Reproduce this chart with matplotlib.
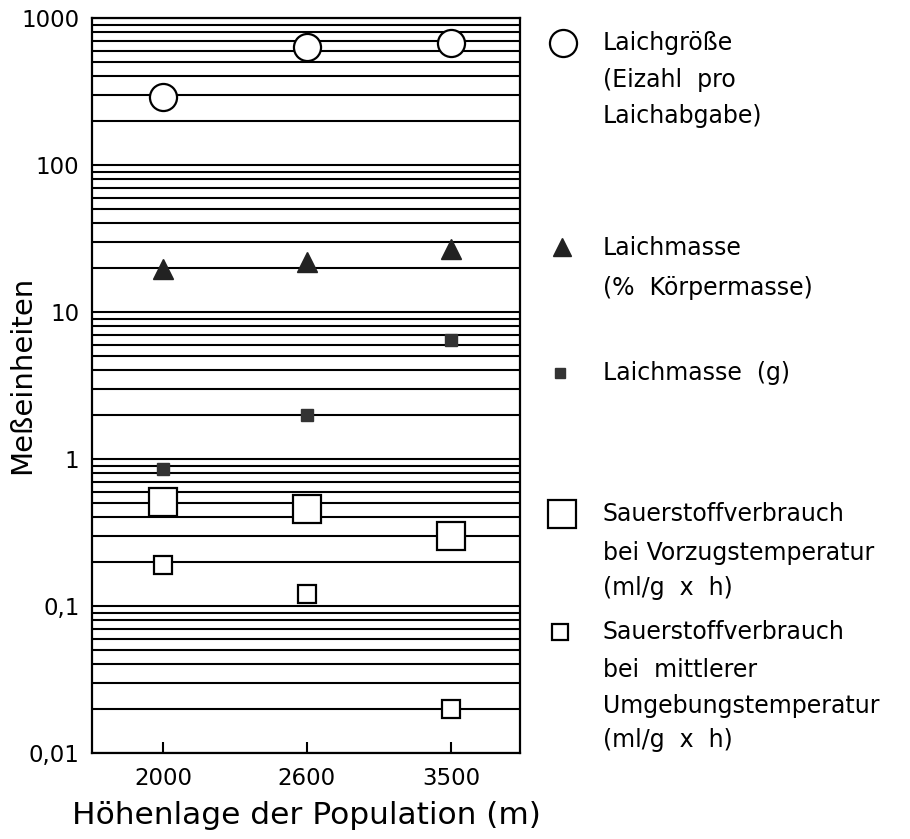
import matplotlib.pyplot as plt
from matplotlib.lines import Line2D
from matplotlib.ticker import LogLocator, FixedLocator, FixedFormatter, NullFormatter

# Höhenlage der Populationen (m)
hoehen = ['2000', '2600', '3500']
laichgroesse = [290, 630, 680]        # Eizahl pro Laichabgabe
laichmasse_proz = [19.5, 22, 27]      # % Körpermasse
laichmasse_g = [0.86, 2.0, 6.4]       # g
o2_vorzug = [0.51, 0.46, 0.30]        # ml/g x h, Vorzugstemperatur
o2_umgebung = [0.19, 0.12, 0.02]      # ml/g x h, mittlere Umgebungstemperatur

y_ticks = [0.01, 0.1, 1, 10, 100, 1000]
y_labels = ['0,01', '0,1', '1', '10', '100', '1000']

legend_texts = [
    ['Laichgröße', '(Eizahl  pro', 'Laichabgabe)'],
    ['Laichmasse', '(%  Körpermasse)'],
    ['Laichmasse  (g)'],
    ['Sauerstoffverbrauch', 'bei Vorzugstemperatur', '(ml/g  x  h)'],
    ['Sauerstoffverbrauch', 'bei  mittlerer', 'Umgebungstemperatur', '(ml/g  x  h)'],
]

W, H = 910, 839
fig = plt.figure(figsize=(W / 100, H / 100), dpi=100)
ax = fig.add_axes([92 / W, 1 - 753 / H, 428 / W, 735 / H])

styles = [
    dict(marker='o', ms=19.5, mfc='white', mec='black', mew=1.6),
    dict(marker='^', ms=14, mfc='#222222', mec='#222222', mew=1),
    dict(marker='s', ms=8.5, mfc='#333333', mec='#333333', mew=1),
    dict(marker='s', ms=20, mfc='white', mec='black', mew=1.6),
    dict(marker='s', ms=13, mfc='white', mec='black', mew=1.6),
]
series = [laichgroesse, laichmasse_proz, laichmasse_g, o2_vorzug, o2_umgebung]

xpos = list(range(len(hoehen)))
for vals, st in zip(series, styles):
    ax.plot(xpos, vals, ls='none', zorder=5, clip_on=False, **st)

ax.set_yscale('log')
ax.set_ylim(0.01, 1000)
ax.set_xlim(-0.493, 2.48)
ax.yaxis.set_major_locator(FixedLocator(y_ticks))
ax.yaxis.set_major_formatter(FixedFormatter(y_labels))
ax.yaxis.set_minor_locator(LogLocator(base=10, subs=range(2, 10)))
ax.yaxis.set_minor_formatter(NullFormatter())
ax.grid(True, which='both', axis='y', color='black', lw=1.5)
ax.set_axisbelow(True)

ax.set_xticks(xpos)
ax.set_xticklabels(hoehen)
ax.tick_params(axis='y', which='both', length=0, pad=9, labelsize=16.5)
ax.tick_params(axis='x', direction='in', length=8, width=1.5, pad=10, labelsize=16.5)
for sp in ax.spines.values():
    sp.set_linewidth(1.6)

ax.set_xlabel('Höhenlage der Population (m)', fontsize=22.5, labelpad=8)
fig.text(22 / W, 1 - 375 / H, 'Meßeinheiten', fontsize=21, rotation=90,
         ha='center', va='center')

# legende rechts neben dem diagramm
leg_marker_y = [43, 247, 373, 514, 632]
leg_marker_x = [563, 562, 560, 562, 560]
leg_ms = [19.5, 12.5, 7, 20, 11]
leg_text_y = [[43, 80, 116], [248, 288], [373], [514, 553, 588], [632, 670, 706, 740]]

for i, st in enumerate(styles):
    st = dict(st)
    st['ms'] = leg_ms[i]
    fig.add_artist(Line2D([leg_marker_x[i] / W], [1 - leg_marker_y[i] / H],
                          transform=fig.transFigure, ls='none', **st))
    for line, y in zip(legend_texts[i], leg_text_y[i]):
        fig.text(603 / W, 1 - y / H, line, fontsize=17, va='center', ha='left')

fig.savefig('out.png', dpi=100)
